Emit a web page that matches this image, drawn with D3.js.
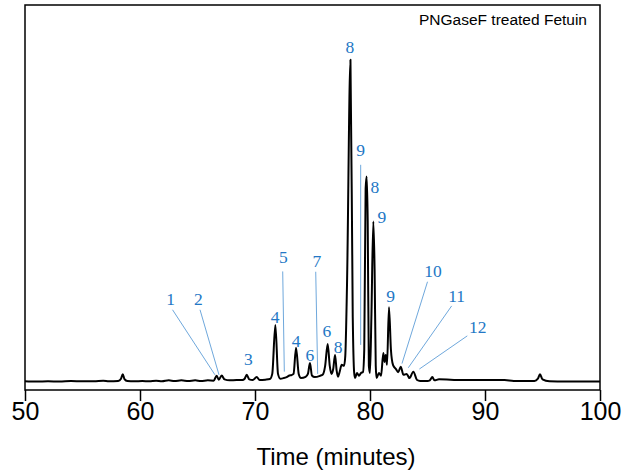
<!DOCTYPE html>
<html>
<head>
<meta charset="utf-8">
<script src="https://cdn.jsdelivr.net/npm/d3@7"></script>
<style>
  body { margin: 0; background: #fff; }
  svg { display: block; }
  .axis text { font-family: "Liberation Sans", Arial, sans-serif; font-size: 25px; fill: #000; }
  .axis line { stroke: #000; stroke-width: 1.5; }
  .peak-label { font-family: "Liberation Serif", "Times New Roman", serif; font-size: 17.5px; fill: #2377c5; text-anchor: middle; }
  .leader { stroke: #6fa8dc; stroke-width: 1; }
</style>
</head>
<body>
<svg id="chart"></svg>
<script>
// chromatogram trace (time in minutes, relative signal)
var traceTime = [
  50.0, 51.0, 52.0, 53.0, 54.0, 55.0, 56.0, 56.8, 57.3, 58.1, 58.35, 58.5, 58.65, 58.9,
  59.5, 60.2, 60.8, 61.4, 61.9, 62.5, 63.0, 63.6, 64.2, 64.8, 65.3, 65.9, 66.4,
  66.67, 66.85, 67.1, 67.35, 67.8, 68.4, 68.9, 69.1, 69.28, 69.5, 69.8, 70.15, 70.4,
  70.9, 71.3, 71.5, 71.77, 72.0, 72.2, 72.5, 72.75, 73.0, 73.15, 73.35, 73.57, 73.8,
  74.0, 74.4, 74.6, 74.78, 74.95, 75.2, 75.65, 75.9, 76.1, 76.32, 76.5, 76.65, 76.8,
  76.96, 77.1, 77.22, 77.35, 77.54, 77.74, 77.85, 78.0, 78.3, 78.5, 78.62, 78.7,
  78.87, 79.04, 79.22, 79.39, 79.5, 79.62, 79.71, 79.8, 79.9, 80.0, 80.12, 80.29,
  80.4, 80.5, 80.57, 80.78, 80.96, 81.16, 81.26, 81.37, 81.48, 81.65, 81.82, 82.0,
  82.26, 82.45, 82.67, 82.91, 83.19, 83.43, 83.77, 84.09, 84.35, 85.0, 85.2, 85.42,
  85.6, 86.0, 88.0, 90.0, 91.7, 92.5, 94.3, 94.6, 94.78, 95.0, 95.6, 97.0, 100.0
];
var traceSignal = [
  0.2, 0.1, 0.2, 0.1, 0.3, 0.2, 0.2, 0.4, 0.2, 0.3, 1.0, 2.4, 0.9, 0.3,
  0.2, 0.3, 0.2, 0.4, 0.2, 0.5, 0.3, 0.5, 0.3, 0.5, 0.3, 0.5, 0.4,
  1.9, 0.7, 2.0, 0.8, 0.5, 0.6, 0.6, 1.0, 2.2, 0.8, 0.6, 1.5, 0.6,
  0.7, 0.9, 2.5, 17.7, 2.5, 1.0, 1.2, 1.5, 2.0, 2.1, 2.5, 10.6, 2.5,
  1.2, 1.6, 2.5, 5.9, 2.0, 1.5, 1.9, 2.3, 5.0, 11.8, 5.0, 2.5, 4.0,
  8.4, 3.5, 1.6, 3.0, 5.3, 5.0, 8.0, 30, 100, 20, 3.0, 1.2,
  2.8, 1.9, 2.8, 3.1, 10, 60, 63.8, 50, 5, 2.8, 20, 49.8,
  35, 5, 1.2, 2.8, 1.9, 9.0, 6.2, 8.4, 5.3, 23.2, 10, 5.3,
  4.0, 3.0, 4.75, 2.2, 2.5, 1.2, 3.2, 0.6, 0.3, 0.3, 0.5, 1.5,
  0.5, 0.8, 0.6, 0.6, 0.6, 0.3, 0.3, 1.0, 2.4, 0.8, 0.2, 0.1, 0.1
];

// peak annotations: glycan numbers and where they sit
var peakLabels = ["1", "2", "3", "4", "5", "4", "6", "7", "6", "8", "8", "9", "8", "9", "9", "10", "11", "12"];
var labelTime = [62.67, 65.07, 69.42, 71.74, 72.46, 73.57, 74.78, 75.37, 76.26, 77.22, 78.26, 79.19, 80.43, 81.04, 81.80, 85.48, 87.54, 89.37];
var labelSignal = [23.9, 23.9, 5.3, 18.3, 37.0, 11.0, 6.6, 35.8, 14.1, 9.0, 102.1, 70.0, 58.8, 49.4, 24.8, 32.5, 24.9, 15.1];

// leader lines (from label to peak)
var leaderFromTime = [62.83, 65.22, 72.41, 75.28, 79.19, 85.0, 87.10, 88.46];
var leaderFromSignal = [22.4, 22.4, 34.3, 34.2, 67.4, 31.1, 23.6, 14.3];
var leaderToTime = [66.52, 66.87, 72.55, 75.45, 79.19, 82.78, 83.33, 84.29];
var leaderToSignal = [2.2, 2.2, 3.2, 2.5, 11.5, 5.7, 4.4, 4.0];

var xTicks = [50, 60, 70, 80, 90, 100];

var W = 627, H = 471;
var margin = {top: 5, right: 27, bottom: 81, left: 25},
    width = W - margin.left - margin.right,
    height = H - margin.top - margin.bottom;

var svg = d3.select("#chart")
    .attr("width", W)
    .attr("height", H);

var g = svg.append("g")
    .attr("transform", "translate(" + margin.left + "," + margin.top + ")");

var x = d3.scaleLinear()
    .domain([50, 100])
    .range([0, width]);

var y = d3.scaleLinear()
    .domain([-2.5, 117])
    .range([height, 0]);

var xAxis = d3.axisBottom(x)
    .tickValues(xTicks)
    .tickSize(11)
    .tickPadding(1)
    .tickFormat(d3.format("d"));

g.append("g")
    .attr("class", "axis")
    .attr("transform", "translate(0," + height + ")")
    .call(xAxis)
    .call(function(s) { s.select(".domain").remove(); });

// frame
g.append("rect")
    .attr("x", 0)
    .attr("y", 0)
    .attr("width", width)
    .attr("height", height)
    .attr("fill", "none")
    .attr("stroke", "#000")
    .attr("stroke-width", 1.5);

svg.append("text")
    .attr("x", 336)
    .attr("y", 465)
    .attr("text-anchor", "middle")
    .style("font-family", "'Liberation Sans', Arial, sans-serif")
    .style("font-size", "24px")
    .text("Time (minutes)");

svg.append("text")
    .attr("x", 587)
    .attr("y", 25)
    .attr("text-anchor", "end")
    .style("font-family", "'Liberation Sans', Arial, sans-serif")
    .style("font-size", "15.5px")
    .text("PNGaseF treated Fetuin");

var trace = traceTime.map(function(t, i) { return [t, traceSignal[i]]; });

var line = d3.line()
    .x(function(d) { return x(d[0]); })
    .y(function(d) { return y(d[1]); })
    .curve(d3.curveMonotoneX);

g.append("path")
    .datum(trace)
    .attr("fill", "none")
    .attr("stroke", "#000")
    .attr("stroke-width", 2)
    .attr("stroke-linejoin", "round")
    .attr("d", line);

g.selectAll(".leader")
    .data(leaderFromTime)
  .enter().append("line")
    .attr("class", "leader")
    .attr("x1", function(d) { return x(d); })
    .attr("y1", function(d, i) { return y(leaderFromSignal[i]); })
    .attr("x2", function(d, i) { return x(leaderToTime[i]); })
    .attr("y2", function(d, i) { return y(leaderToSignal[i]); });

g.selectAll(".peak-label")
    .data(peakLabels)
  .enter().append("text")
    .attr("class", "peak-label")
    .attr("x", function(d, i) { return x(labelTime[i]); })
    .attr("y", function(d, i) { return y(labelSignal[i]); })
    .text(function(d) { return d; });
</script>
</body>
</html>
